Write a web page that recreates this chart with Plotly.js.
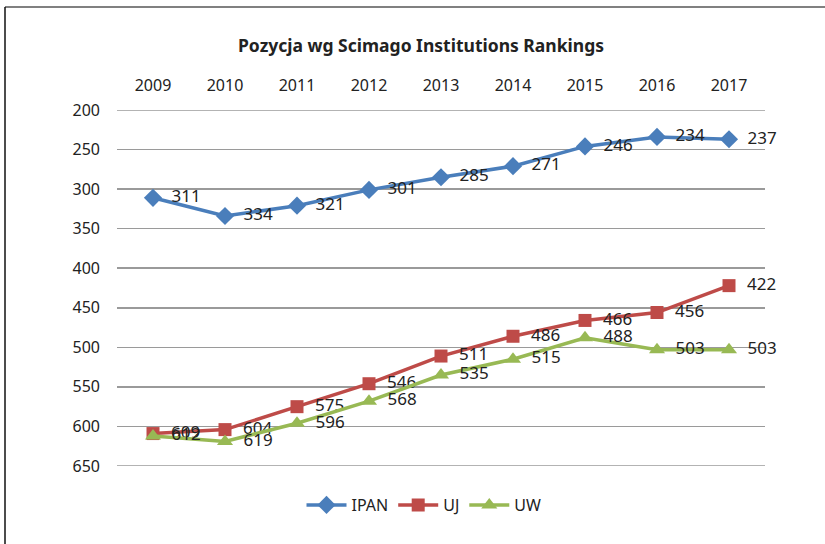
<!DOCTYPE html>
<html>
<head>
<meta charset="utf-8">
<script src="https://cdn.plot.ly/plotly-3.0.1.min.js"></script>
<style>html,body{margin:0;padding:0;background:#fff;}#chart{width:825px;height:544px;}</style>
</head>
<body>
<div id="chart"></div>
<script>
const years = ['2009','2010','2011','2012','2013','2014','2015','2016','2017'];
const ipan = [311, 334, 321, 301, 285, 271, 246, 234, 237];
const uj   = [609, 604, 575, 546, 511, 486, 466, 456, 422];
const uw   = [612, 619, 596, 568, 535, 515, 488, 503, 503];
const yTicks = [200, 250, 300, 350, 400, 450, 500, 550, 600, 650];

const FONT = 'Noto Sans, Open Sans, sans-serif';
function series(name, vals, color, symbol, size) {
  return {
    type: 'scatter', mode: 'lines+markers+text', name: name,
    x: years, y: vals, text: vals.map(v => '\u00a0\u00a0' + v),
    textposition: 'middle right',
    textfont: {family: FONT, size: 17, color: '#222'},
    line: {color: color, width: 3.5},
    marker: {symbol: symbol, size: size, color: color},
    cliponaxis: false
  };
}
const data = [
  series('IPAN', ipan, '#4A7EBB', 'diamond', 14),
  series('UJ', uj, '#BE4B48', 'square', 13),
  series('UW', uw, '#98B954', 'triangle-up', 14)
];
const L = 117, R = 765, T = 110, B = 466;
const pw = R - L, ph = B - T;
const px = v => (v - L) / pw;
const py = v => (B - v) / ph;
const edgeGrid = [yTicks[0], yTicks[yTicks.length - 1]].map(v => ({
  type: 'line', xref: 'paper', yref: 'y', x0: 0, x1: 1, y0: v, y1: v,
  line: {color: '#9a9a9a', width: 1.5}, layer: 'below'
}));
const layout = {
  width: 825, height: 544,
  margin: {l: L, r: 825 - R, t: T, b: 544 - B},
  paper_bgcolor: '#fff', plot_bgcolor: '#fff',
  font: {family: FONT, size: 16, color: '#222'},
  title: {text: '<b>Pozycja wg Scimago Institutions Rankings</b>',
          font: {family: FONT, size: 17.5, color: '#222'},
          x: 421 / 825, xanchor: 'center', xref: 'container',
          y: 1 - 46 / 544, yanchor: 'middle', yref: 'container'},
  xaxis: {type: 'category', side: 'top', range: [-0.5, 8.5],
          showgrid: false, zeroline: false, showline: false, ticks: '',
          ticklabelstandoff: 15,
          tickfont: {family: FONT, size: 16, color: '#222'}},
  yaxis: {range: [650, 200], tickvals: yTicks, ticktext: yTicks.map(String),
          showgrid: true, gridcolor: '#9a9a9a', gridwidth: 1.5,
          zeroline: false, showline: false, ticks: '',
          ticklabelstandoff: 16,
          tickfont: {family: FONT, size: 16, color: '#222'}},
  showlegend: true,
  legend: {orientation: 'h', x: px(424), xanchor: 'center', y: py(505), yanchor: 'middle',
           font: {family: FONT, size: 16, color: '#222'}, itemwidth: 40, traceorder: 'normal'},
  shapes: edgeGrid.concat([
    {type: 'line', xref: 'paper', yref: 'paper', x0: px(5), x1: px(826), y0: py(7), y1: py(7),
     line: {color: '#808080', width: 2}},
    {type: 'line', xref: 'paper', yref: 'paper', x0: px(5), x1: px(5), y0: py(7), y1: py(545),
     line: {color: '#111', width: 1.5}}
  ])
};
Plotly.newPlot('chart', data, layout, {displayModeBar: false, staticPlot: true});
</script>
</body>
</html>
